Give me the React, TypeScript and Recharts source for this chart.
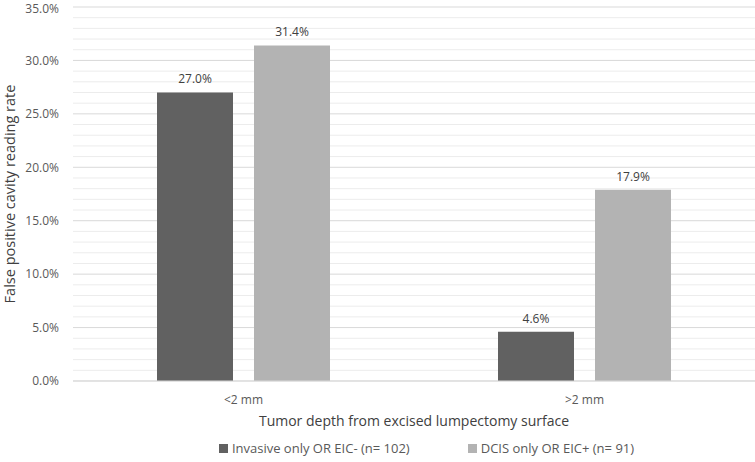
import React from 'react';
import { BarChart, Bar, XAxis, YAxis, CartesianGrid, Legend, LabelList, Label, ReferenceLine } from 'recharts';

const categories = ['<2 mm', '>2 mm'];
const invasive = [27.0, 4.6];
const dcis = [31.4, 17.9];

const Y_MAX = 35;
const majorTicks = [0, 5, 10, 15, 20, 25, 30, 35];
const minorTicks = Array.from({ length: 36 }, (_, i) => i).filter((t) => t % 5 !== 0);

const seriesNames = ['Invasive only OR EIC- (n= 102)', 'DCIS only OR EIC+ (n= 91)'];
const seriesColors = ['#616161', '#b3b3b3'];

const data = categories.map((c, i) => ({ name: c, invasive: invasive[i], dcis: dcis[i] }));

const FONT = '"Open Sans", sans-serif';

const fmt = (v: number) => `${v.toFixed(1)}%`;

function LegendContent() {
  return (
    <div style={{ height: 28, display: 'flex', alignItems: 'center', justifyContent: 'center', gap: 58, fontFamily: FONT, fontSize: 13, color: '#595959', paddingLeft: 80 }}>
      {seriesNames.map((n, i) => (
        <div key={n} style={{ display: 'flex', alignItems: 'center' }}>
          <span style={{ display: 'inline-block', width: 9, height: 9, background: seriesColors[i], marginRight: 4 }} />
          <span>{n}</span>
        </div>
      ))}
    </div>
  );
}

export default function App() {
  return (
    <div>
      <style>{`body{margin:0}`}</style>
      <BarChart
        width={755}
        height={462}
        data={data}
        margin={{ top: 7, right: 0, left: 18, bottom: 0 }}
        barSize={76}
        barGap={21}
      >
        {/* minor 1% gridlines, kept under the bars */}
        {minorTicks.map((t) => (
          <ReferenceLine key={t} y={t} stroke="#ececec" strokeWidth={1} {...({ zIndex: -90 } as any)} />
        ))}
        <CartesianGrid vertical={false} stroke="#d9d9d9" />
        <XAxis
          dataKey="name"
          height={53}
          tickLine={false}
          axisLine={{ stroke: '#d9d9d9' }}
          tick={{ fill: '#595959', fontSize: 12, fontFamily: FONT }}
          tickMargin={8}
        >
          <Label
            value="Tumor depth from excised lumpectomy surface"
            position="insideBottom"
            offset={8}
            style={{ fill: '#404040', fontSize: 14, fontFamily: FONT }}
          />
        </XAxis>
        <YAxis
          domain={[0, Y_MAX]}
          ticks={majorTicks}
          width={55}
          tickLine={false}
          axisLine={false}
          tickFormatter={fmt}
          tick={{ fill: '#595959', fontSize: 12, fontFamily: FONT }}
          tickMargin={8}
        >
          <Label
            value="False positive cavity reading rate"
            angle={-90}
            position="insideLeft"
            offset={-8}
            style={{ textAnchor: 'middle', fill: '#404040', fontSize: 14.5, fontFamily: FONT }}
          />
        </YAxis>
        <Legend verticalAlign="bottom" height={28} content={<LegendContent />} />
        <Bar dataKey="invasive" name={seriesNames[0]} fill={seriesColors[0]} isAnimationActive={false}>
          <LabelList dataKey="invasive" position="top" offset={9} formatter={fmt} style={{ fill: '#404040', fontSize: 12, fontFamily: FONT }} />
        </Bar>
        <Bar dataKey="dcis" name={seriesNames[1]} fill={seriesColors[1]} isAnimationActive={false}>
          <LabelList dataKey="dcis" position="top" offset={9} formatter={fmt} style={{ fill: '#404040', fontSize: 12, fontFamily: FONT }} />
        </Bar>
      </BarChart>
    </div>
  );
}
